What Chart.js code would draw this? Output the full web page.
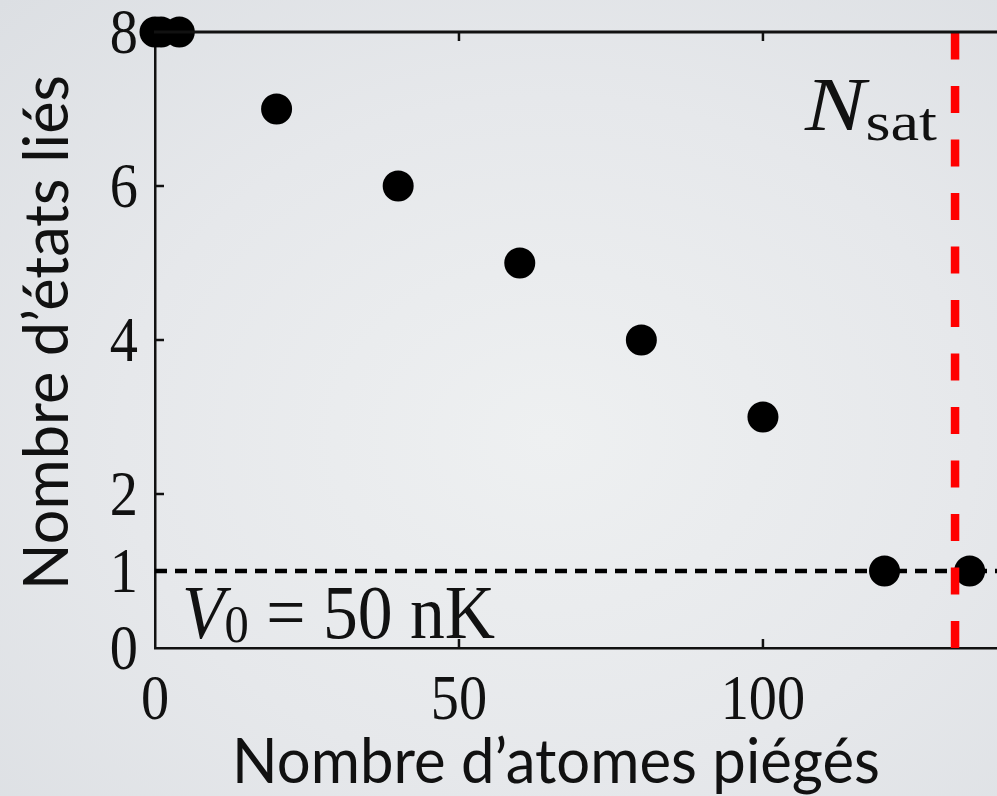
<!DOCTYPE html>
<html>
<head>
<meta charset="utf-8">
<script src="https://cdn.jsdelivr.net/npm/chart.js@4/dist/chart.umd.min.js"></script>
<style>
    html, body { margin: 0; padding: 0; }
    body {
        width: 997px; height: 796px; overflow: hidden;
        background: radial-gradient(ellipse at 55% 55%, #eef0f1 0%, #e6e8eb 55%, #dcdfe3 100%);
    }
    #wrap { position: relative; width: 997px; height: 796px; }
</style>
</head>
<body>
<div id="wrap"><canvas id="c" width="997" height="796"></canvas></div>
<script>
// ── data ──────────────────────────────────────────────────────────
const atoms = [0, 1, 4, 20, 40, 60, 80, 100, 120, 134];
const boundStates = [8, 8, 8, 7, 6, 5, 4, 3, 1, 1];
const xTicks = [0, 50, 100];
const yTicks = [0, 1, 2, 4, 6, 8];
const xInnerTicks = [50, 100];
const yInnerTicks = [2, 4, 6];
const nSat = 131.6;
const oneState = 1;
const xMax = 138.5;
const yMax = 8;

const SERIF = '"Liberation Serif", "DejaVu Serif", serif';
const SANS = 'Lato, "Open Sans", sans-serif';
const SQUASH = 0.88;

// draws text squeezed horizontally (the original figure is a bit narrow)
function squeezed(ctx, text, x, y, font, align, sx) {
    ctx.save();
    ctx.font = font;
    const w = ctx.measureText(text).width * sx;
    let left = x;
    if (align === 'center') left = x - w / 2;
    else if (align === 'right') left = x - w;
    ctx.translate(left, y);
    ctx.scale(sx, 1);
    ctx.textAlign = 'left';
    ctx.fillText(text, 0, 0);
    ctx.restore();
    return w;
}

// runs of [text, font, dy] laid out in a row, fitted to a target width
function runRow(ctx, runs, x, y, targetW) {
    ctx.save();
    let total = 0;
    for (const r of runs) { ctx.font = r[1]; total += ctx.measureText(r[0]).width; }
    const sx = targetW / total;
    ctx.translate(x, y);
    ctx.scale(sx, 1);
    let cx = 0;
    for (const r of runs) {
        ctx.font = r[1];
        ctx.fillText(r[0], cx, r[2] || 0);
        cx += ctx.measureText(r[0]).width;
    }
    ctx.restore();
}

const decorPlugin = {
    id: 'decor',
    afterDraw(chart) {
        const { ctx, chartArea: a, scales: { x, y } } = chart;
        ctx.save();
        ctx.fillStyle = '#111';
        ctx.strokeStyle = '#111';
        ctx.textBaseline = 'alphabetic';

        // frame: top line (left and bottom come from the scale borders)
        ctx.lineWidth = 3;
        ctx.beginPath();
        ctx.moveTo(a.left - 1, a.top);
        ctx.lineTo(a.right, a.top);
        ctx.stroke();

        // inward ticks
        ctx.lineWidth = 2.5;
        for (const v of xInnerTicks) {
            const px = x.getPixelForValue(v);
            ctx.beginPath();
            ctx.moveTo(px, a.bottom); ctx.lineTo(px, a.bottom - 9);
            ctx.moveTo(px, a.top); ctx.lineTo(px, a.top + 9);
            ctx.stroke();
        }
        for (const v of yInnerTicks) {
            const py = y.getPixelForValue(v);
            ctx.beginPath();
            ctx.moveTo(a.left, py); ctx.lineTo(a.left + 9, py);
            ctx.stroke();
        }

        // tick labels
        const tickFont = `64px ${SERIF}`;
        for (const v of xTicks) {
            squeezed(ctx, String(v), x.getPixelForValue(v), 719, tickFont, 'center', SQUASH);
        }
        for (const v of yTicks) {
            squeezed(ctx, String(v), 138, y.getPixelForValue(v) + 21, tickFont, 'right', SQUASH);
        }

        // axis titles
        ctx.font = `62px ${SANS}`;
        const xt = 'Nombre d’atomes piégés';
        const xw = ctx.measureText(xt).width;
        squeezed(ctx, xt, 232, 783, ctx.font, 'left', 648 / xw);

        const yt = 'Nombre d’états liés';
        ctx.font = `62px ${SANS}`;
        const yw = ctx.measureText(yt).width;
        ctx.save();
        ctx.translate(68, 590);
        ctx.rotate(-Math.PI / 2);
        squeezed(ctx, yt, 0, 0, `62px ${SANS}`, 'left', 515 / yw);
        ctx.restore();

        // annotations
        runRow(ctx, [
            ['V', `italic 76px ${SERIF}`, 0],
            ['0', `53px ${SERIF}`, 4],
            [' = 50 nK', `76px ${SERIF}`, 0]
        ], 182, 638, 313);
        runRow(ctx, [
            ['N', `italic 76px ${SERIF}`, 0],
            ['sat', `54px ${SERIF}`, 10]
        ], 805, 130, 132);

        ctx.restore();
    }
};

new Chart(document.getElementById('c'), {
    type: 'scatter',
    data: {
        datasets: [
            {
                // N_sat marker
                type: 'line',
                data: [{ x: nSat, y: 0 }, { x: nSat, y: yMax }],
                borderColor: '#ff0000',
                borderWidth: 8.5,
                borderDash: [27, 26.5],
                pointRadius: 0,
                order: 0
            },
            {
                data: atoms.map((a, i) => ({ x: a, y: boundStates[i] })),
                backgroundColor: '#000',
                borderWidth: 0,
                pointRadius: 15.5,
                pointHoverRadius: 15.5,
                clip: false,
                order: 1
            },
            {
                // one bound state level
                type: 'line',
                data: [{ x: 0, y: oneState }, { x: xMax, y: oneState }],
                borderColor: '#000',
                borderWidth: 4.5,
                borderDash: [12, 8],
                pointRadius: 0,
                order: 2
            }
        ]
    },
    options: {
        responsive: false,
        animation: false,
        events: [],
        layout: { autoPadding: false, padding: { top: 32, left: 0, right: 0, bottom: 0 } },
        plugins: { legend: { display: false }, tooltip: { enabled: false } },
        scales: {
            x: {
                type: 'linear',
                min: 0,
                max: xMax,
                grid: { display: false, drawTicks: false },
                border: { display: true, color: '#111', width: 2.5 },
                ticks: { display: false },
                afterFit: s => { s.height = 148; }
            },
            y: {
                type: 'linear',
                min: 0,
                max: yMax,
                grid: { display: false, drawTicks: false },
                border: { display: true, color: '#111', width: 2.5 },
                ticks: { display: false },
                afterFit: s => { s.width = 155; }
            }
        }
    },
    plugins: [decorPlugin]
});
</script>
</body>
</html>
